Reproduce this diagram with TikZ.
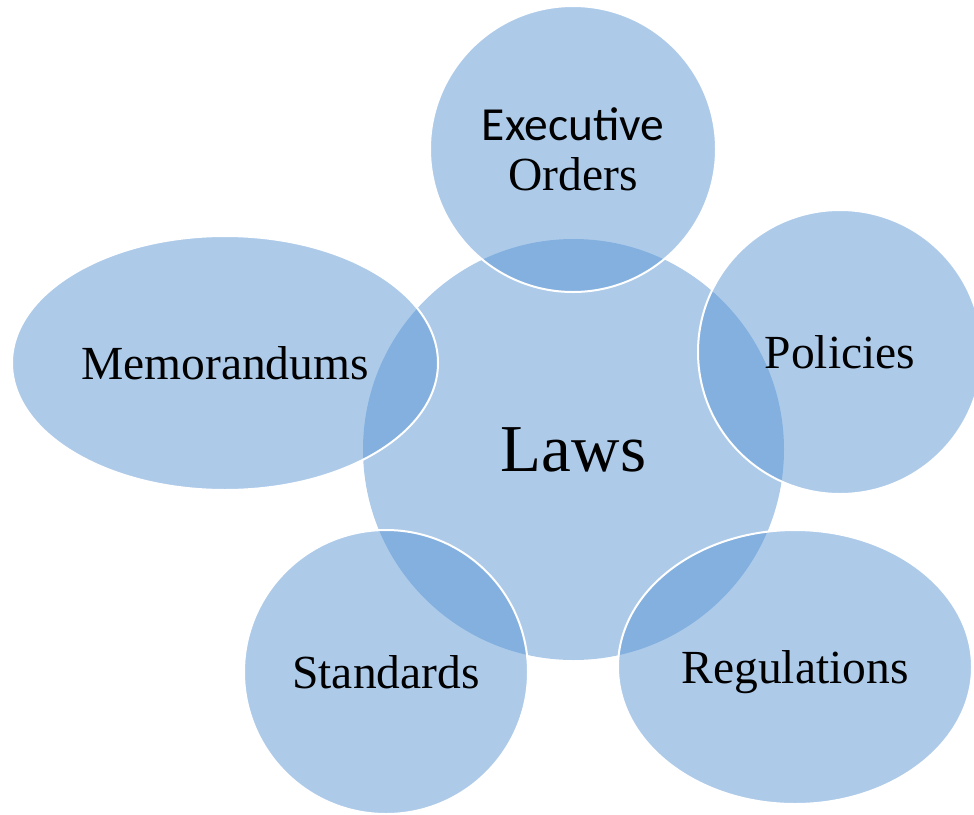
\documentclass[tikz,border=0pt]{standalone}
\usepackage{fontspec}
\setmainfont{Liberation Serif}
\newfontfamily\calibri{Carlito}
\usetikzlibrary{shapes.geometric}
\definecolor{lawblue}{RGB}{91,150,212}
\begin{document}
\begin{tikzpicture}[x=1pt,y=-1pt,
  blob/.style={fill=lawblue,fill opacity=0.5,text opacity=1,inner sep=0pt,
    font=\fontsize{47.5}{50}\selectfont},
  rand/.style={draw=white,line width=2pt}]
\useasboundingbox (0,0) rectangle (974,814);
% center
\node[blob,circle,minimum size=421pt,font=\fontsize{67}{70}\selectfont] (laws) at (573.5,449.5) {Laws};
% around it
\node[blob,rand,circle,minimum size=286pt,align=center] (exec) at (573,149) {{\calibri Executive}\\Orders};
\node[blob,rand,circle,minimum size=284pt] (pol) at (840,352) {Policies};
\node[blob,rand,ellipse,minimum width=354pt,minimum height=274pt,text depth=0pt] (reg) at (795,667) {Regulations};
\node[blob,rand,circle,minimum size=284pt] (std) at (386,672) {Standards};
\node[blob,rand,ellipse,minimum width=426pt,minimum height=254pt] (memo) at (225,363) {Memorandums};
\end{tikzpicture}
\end{document}
